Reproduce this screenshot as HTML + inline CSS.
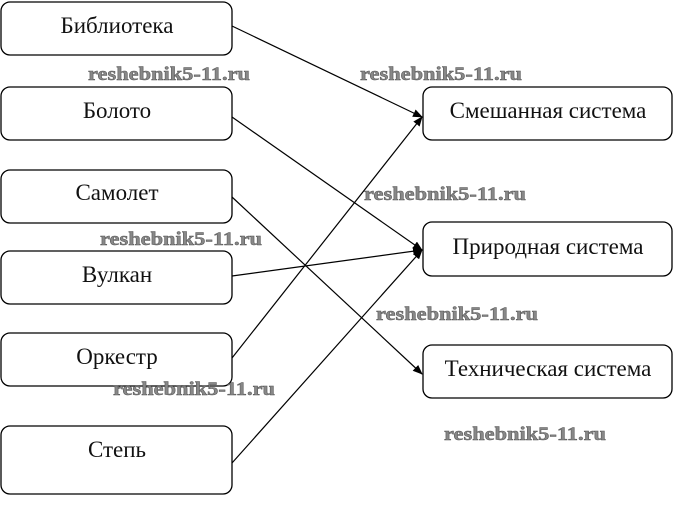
<!DOCTYPE html>
<html><head><meta charset="utf-8"><style>
html,body{margin:0;padding:0;background:#fff;}
svg{display:block;}
.t{font-family:"Liberation Serif","Noto Serif CJK SC",serif;font-size:23px;fill:#111;text-anchor:middle;}
.w{font-family:"Liberation Serif",serif;font-size:19px;font-weight:bold;fill:#888;stroke:#555;stroke-width:0.5px;}
</style></head><body>
<svg width="674" height="528" viewBox="0 0 674 528" xmlns="http://www.w3.org/2000/svg">
<defs><marker id="a" markerWidth="10" markerHeight="8" refX="9" refY="4" orient="auto" markerUnits="userSpaceOnUse"><path d="M0,0 L10,4 L0,8 Z" fill="#000"/></marker></defs>
<g fill="none" stroke="#000" stroke-width="1.3">
<rect x="1" y="2" width="231" height="53" rx="9"/>
<rect x="1" y="87" width="231" height="53" rx="9"/>
<rect x="1" y="170" width="231" height="53" rx="9"/>
<rect x="1" y="251" width="231" height="53" rx="9"/>
<rect x="1" y="333" width="231" height="53" rx="9"/>
<rect x="1" y="426" width="231" height="68" rx="9"/>
<rect x="423" y="87" width="249" height="53" rx="9"/>
<rect x="423" y="222" width="249" height="54" rx="9"/>
<rect x="423" y="345" width="249" height="53" rx="9"/>
</g>
<g stroke="#000" stroke-width="1.2" marker-end="url(#a)">
<line x1="232" y1="26" x2="422" y2="117"/>
<line x1="232" y1="117" x2="422" y2="250"/>
<line x1="232" y1="197" x2="422" y2="374"/>
<line x1="232" y1="276" x2="422" y2="250"/>
<line x1="232" y1="358" x2="422" y2="117"/>
<line x1="232" y1="463" x2="422" y2="250"/>
</g>
<text class="t" x="117" y="33">Библиотека</text>
<text class="t" x="117" y="118">Болото</text>
<text class="t" x="117" y="200">Самолет</text>
<text class="t" x="117" y="282">Вулкан</text>
<text class="t" x="117" y="364">Оркестр</text>
<text class="t" x="117" y="457">Степь</text>
<text class="t" x="548" y="118">Смешанная система</text>
<text class="t" x="548" y="254">Природная система</text>
<text class="t" x="548" y="376">Техническая система</text>
<g class="w">
<text x="88" y="80" textLength="162" lengthAdjust="spacingAndGlyphs">reshebnik5-11.ru</text>
<text x="360" y="80" textLength="162" lengthAdjust="spacingAndGlyphs">reshebnik5-11.ru</text>
<text x="364" y="200" textLength="162" lengthAdjust="spacingAndGlyphs">reshebnik5-11.ru</text>
<text x="100" y="245" textLength="162" lengthAdjust="spacingAndGlyphs">reshebnik5-11.ru</text>
<text x="376" y="320" textLength="162" lengthAdjust="spacingAndGlyphs">reshebnik5-11.ru</text>
<text x="113" y="395" textLength="162" lengthAdjust="spacingAndGlyphs">reshebnik5-11.ru</text>
<text x="444" y="440" textLength="162" lengthAdjust="spacingAndGlyphs">reshebnik5-11.ru</text>
</g>
</svg>
</body></html>
